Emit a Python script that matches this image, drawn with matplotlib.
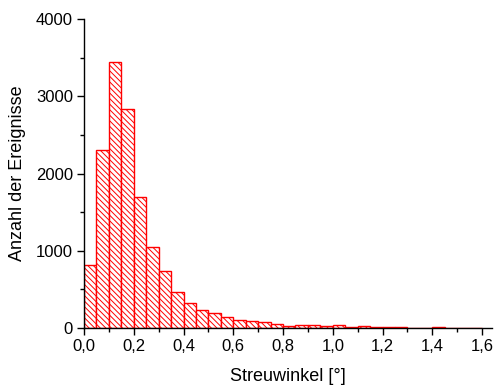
import matplotlib
matplotlib.use("Agg")
import matplotlib.pyplot as plt
from matplotlib.ticker import MultipleLocator, FuncFormatter
import numpy as np

bin_edges = [round(0.05 * i, 2) for i in range(33)]
counts = [810, 2310, 3440, 2840, 1700, 1045, 740, 466, 320, 229, 190, 144,
          102, 89, 76, 56, 26, 35, 35, 31, 35, 17, 26, 13, 17, 9, 5, 3, 9, 2, 5, 1]
x_label = "Streuwinkel [°]"
y_label = "Anzahl der Ereignisse"

plt.rcParams['font.family'] = ['Liberation Sans', 'DejaVu Sans']
plt.rcParams['hatch.color'] = 'red'
plt.rcParams['hatch.linewidth'] = 0.7

fig = plt.figure(figsize=(4.94, 3.87), dpi=100)
ax = fig.add_axes([84/494, 59/387, 408/494, 309/387])

lefts = bin_edges[:-1]
widths = np.diff(bin_edges)
ax.bar(lefts, counts, width=widths, align='edge', facecolor='white',
       edgecolor='red', linewidth=1.0, hatch='\\\\\\\\\\\\')

ax.set_xlim(0, 1.64)
ax.set_ylim(0, 4000)
ax.xaxis.set_major_locator(MultipleLocator(0.2))
ax.xaxis.set_minor_locator(MultipleLocator(0.1))
ax.yaxis.set_major_locator(MultipleLocator(1000))
ax.yaxis.set_minor_locator(MultipleLocator(500))
ax.xaxis.set_major_formatter(FuncFormatter(lambda v, p: f"{v:.1f}".replace('.', ',')))
ax.yaxis.set_major_formatter(FuncFormatter(lambda v, p: f"{int(v)}"))

for s in ['top', 'right']:
    ax.spines[s].set_visible(False)
for s in ['left', 'bottom']:
    ax.spines[s].set_linewidth(1.0)
ax.tick_params(which='major', direction='out', length=5, width=1.0, labelsize=12, pad=3)
ax.tick_params(which='minor', direction='out', length=3, width=1.0)

ax.set_xlabel(x_label, fontsize=13, labelpad=10)
ax.set_ylabel(y_label, fontsize=13, labelpad=7)

fig.savefig("out.png", dpi=100)
